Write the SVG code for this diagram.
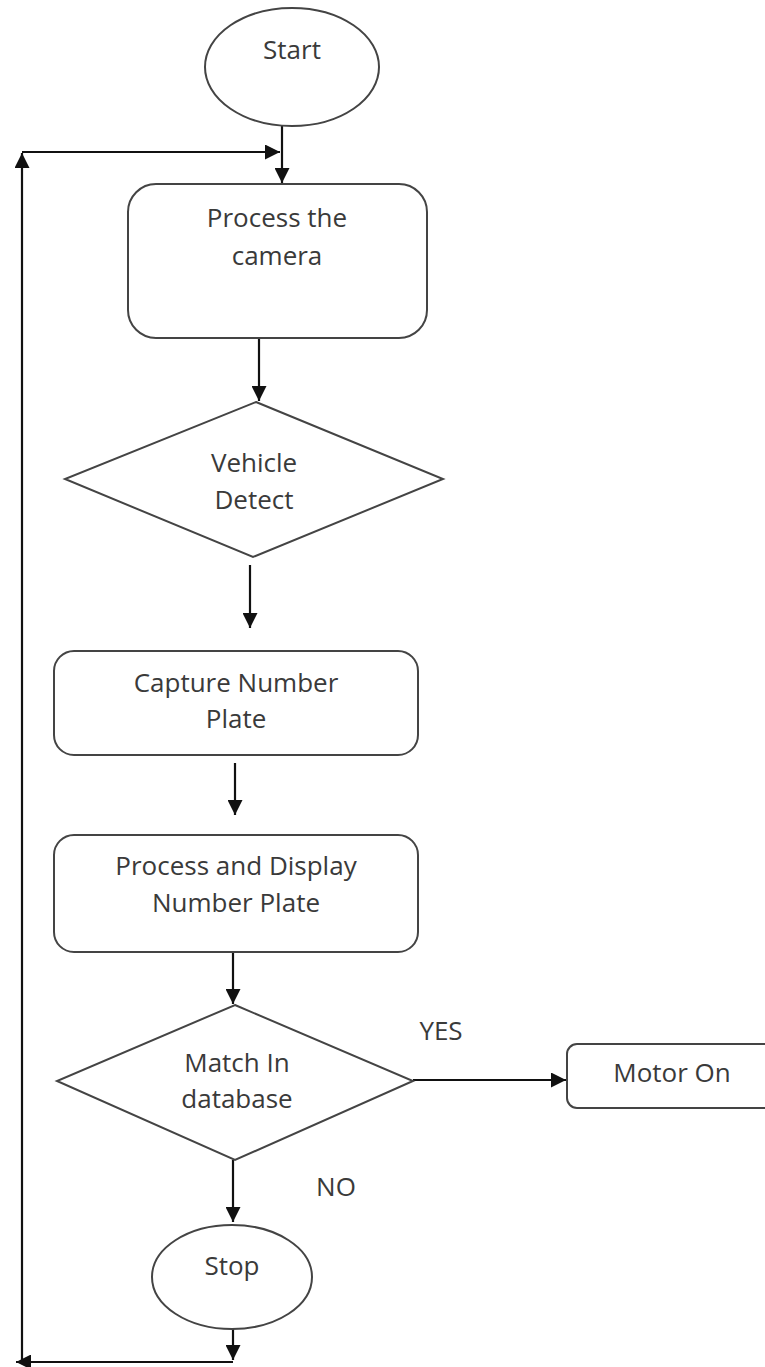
<svg xmlns="http://www.w3.org/2000/svg" width="765" height="1367" viewBox="0 0 765 1367">
<style>
.shape{fill:#fff;stroke:#444;stroke-width:2}
.lbl{font-family:"Open Sans","Noto Sans",sans-serif;font-size:26px;font-weight:500;fill:#3a3a3a;text-anchor:middle}
.conn{fill:none;stroke:#111;stroke-width:2.2}
</style>
<defs>
<marker id="ah" viewBox="0 0 10 10" refX="10" refY="5" markerWidth="15" markerHeight="15" markerUnits="userSpaceOnUse" orient="auto">
<path d="M0,0 L10,5 L0,10 z" fill="#111"/>
</marker>
</defs>
<rect width="765" height="1367" fill="#fff"/>
<g id="connectors">
<path class="conn" d="M282,126 V183" marker-end="url(#ah)"/>
<path class="conn" d="M22,152 H280" marker-end="url(#ah)"/>
<path class="conn" d="M259,338 V401" marker-end="url(#ah)"/>
<path class="conn" d="M250,565 V628" marker-end="url(#ah)"/>
<path class="conn" d="M235,763 V815" marker-end="url(#ah)"/>
<path class="conn" d="M233,952 V1004" marker-end="url(#ah)"/>
<path class="conn" d="M413,1080 H566" marker-end="url(#ah)"/>
<path class="conn" d="M233,1160 V1222" marker-end="url(#ah)"/>
<path class="conn" d="M233,1329 V1360" marker-end="url(#ah)"/>
<path class="conn" d="M233,1362 H16" marker-end="url(#ah)"/>
<path class="conn" d="M22,1362 V153" marker-end="url(#ah)"/>
</g>
<g id="start">
<ellipse class="shape" cx="292" cy="67" rx="87" ry="59"/>
<text class="lbl" x="292" y="59">Start</text>
</g>
<g id="process-camera">
<rect class="shape" x="128" y="184" width="299" height="154" rx="28"/>
<text class="lbl" x="277" y="227">Process the</text>
<text class="lbl" x="277" y="265">camera</text>
</g>
<g id="vehicle-detect">
<polygon class="shape" points="256,402 443,479 253,557 65,479"/>
<text class="lbl" x="254" y="472">Vehicle</text>
<text class="lbl" x="254" y="509">Detect</text>
</g>
<g id="capture">
<rect class="shape" x="54" y="651" width="364" height="104" rx="20"/>
<text class="lbl" x="236" y="692">Capture Number</text>
<text class="lbl" x="236" y="728">Plate</text>
</g>
<g id="process-display">
<rect class="shape" x="54" y="835" width="364" height="117" rx="20"/>
<text class="lbl" x="236" y="875">Process and Display</text>
<text class="lbl" x="236" y="912">Number Plate</text>
</g>
<g id="match">
<polygon class="shape" points="235,1005 413,1081 235,1160 57,1081"/>
<text class="lbl" x="237" y="1072">Match In</text>
<text class="lbl" x="237" y="1108">database</text>
</g>
<g id="motor-on">
<rect class="shape" x="567" y="1044" width="220" height="64" rx="10"/>
<text class="lbl" x="672" y="1082">Motor On</text>
</g>
<g id="stop">
<ellipse class="shape" cx="232" cy="1277" rx="80" ry="52"/>
<text class="lbl" x="232" y="1275">Stop</text>
</g>
<g id="labels">
<text class="lbl" x="441" y="1040">YES</text>
<text class="lbl" x="336" y="1196">NO</text>
</g>
</svg>
